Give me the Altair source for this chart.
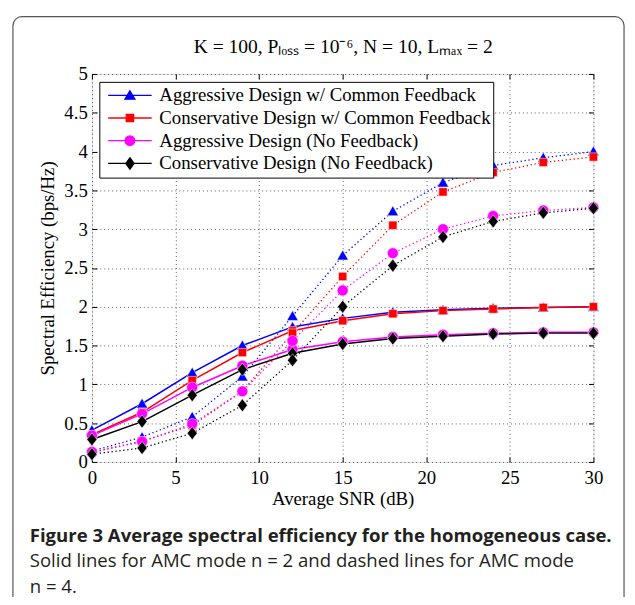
import altair as alt
import pandas as pd

snr = [0, 3, 6, 9, 12, 15, 18, 21, 24, 27, 30]

series_names = [
    "Aggressive Design w/ Common Feedback",
    "Conservative Design w/ Common Feedback",
    "Aggressive Design (No Feedback)",
    "Conservative Design (No Feedback)",
]
series_colors = ["#0000ff", "#ff0000", "#ff00ff", "#000000"]

# AMC mode n = 2 (solid lines)
agg_cf_n2 = [0.41, 0.75, 1.15, 1.50, 1.74, 1.85, 1.93, 1.96, 1.98, 1.99, 2.00]
con_cf_n2 = [0.35, 0.64, 1.05, 1.41, 1.69, 1.82, 1.91, 1.95, 1.97, 1.99, 2.00]
agg_nf_n2 = [0.34, 0.62, 0.96, 1.24, 1.45, 1.55, 1.61, 1.64, 1.66, 1.67, 1.67]
con_nf_n2 = [0.29, 0.52, 0.86, 1.19, 1.40, 1.52, 1.59, 1.62, 1.65, 1.66, 1.66]
# AMC mode n = 4 (dotted lines)
agg_cf_n4 = [0.14, 0.32, 0.58, 1.10, 1.88, 2.66, 3.23, 3.60, 3.82, 3.92, 4.00]
con_cf_n4 = [0.12, 0.27, 0.47, 0.91, 1.66, 2.39, 3.05, 3.48, 3.73, 3.86, 3.93]
agg_nf_n4 = [0.13, 0.26, 0.49, 0.91, 1.56, 2.21, 2.69, 3.00, 3.17, 3.24, 3.28]
con_nf_n4 = [0.10, 0.18, 0.37, 0.73, 1.31, 2.00, 2.53, 2.90, 3.10, 3.21, 3.27]

x_ticks = [0, 5, 10, 15, 20, 25, 30]
y_ticks = [0, 0.5, 1, 1.5, 2, 2.5, 3, 3.5, 4, 4.5, 5]

# marker glyphs (data) and line+marker glyphs (legend)
marker_paths = [
    "M 0 -0.92 L 0.95 0.74 L -0.95 0.74 Z",
    "M -0.7 -0.7 L 0.7 -0.7 L 0.7 0.7 L -0.7 0.7 Z",
    "M -0.92 0 A 0.92 0.92 0 1 1 0.92 0 A 0.92 0.92 0 1 1 -0.92 0 Z",
    "M 0 -1.1 L 0.85 0 L 0 1.1 L -0.85 0 Z",
]
legend_paths = [
    "M -1 0 L 1 0 M 0 -0.21 L 0.23 0.18 L -0.23 0.18 Z",
    "M -1 0 L 1 0 M -0.17 -0.17 L 0.17 -0.17 L 0.17 0.17 L -0.17 0.17 Z",
    "M -1 0 L 1 0 M -0.22 0 A 0.22 0.22 0 1 1 0.22 0 A 0.22 0.22 0 1 1 -0.22 0 Z",
    "M -1 0 L 1 0 M 0 -0.26 L 0.19 0 L 0 0.26 L -0.19 0 Z",
]

n2_sets = [agg_cf_n2, con_cf_n2, agg_nf_n2, con_nf_n2]
n4_sets = [agg_cf_n4, con_cf_n4, agg_nf_n4, con_nf_n4]

rows = []
for name, s2, s4 in zip(series_names, n2_sets, n4_sets):
    for xv, yv in zip(snr, s2):
        rows.append({"snr": xv, "se": yv, "series": name, "mode": "n=2"})
    for xv, yv in zip(snr, s4):
        rows.append({"snr": xv, "se": yv, "series": name, "mode": "n=4"})
df = pd.DataFrame(rows)

SERIF = "Liberation Serif"
FS = 19

x_scale = alt.Scale(domain=[0, 30], nice=False)
y_scale = alt.Scale(domain=[0, 5], nice=False)

tick_common = dict(domain=False, ticks=True, tickSize=5, offset=-5, tickColor="black",
                   tickWidth=1, labelFont=SERIF, labelFontSize=FS, labelColor="black",
                   labelFlush=False, labelOverlap=False,
                   titleFont=SERIF, titleFontWeight="normal", titleColor="black")

x_bottom = alt.X("snr:Q", scale=x_scale, axis=alt.Axis(
    values=x_ticks, format="d", grid=True, gridDash=[1, 3], gridColor="black",
    gridOpacity=0.8, gridWidth=0.8, labelPadding=7, title="Average SNR (dB)",
    titleFontSize=FS, titlePadding=2, **tick_common))
y_left = alt.Y("se:Q", scale=y_scale, axis=alt.Axis(
    values=y_ticks, format="~g", grid=True, gridDash=[1, 3], gridColor="black",
    gridOpacity=0.8, gridWidth=0.8, labelPadding=4.7, titleFontSize=FS,
    title="Spectral Efficiency (bps/Hz)", titlePadding=6.5, **tick_common))
x_top = alt.X("snr:Q", scale=x_scale, axis=alt.Axis(
    orient="top", values=x_ticks, labels=False, grid=False, titleFontSize=19.8,
    title="K = 100, Pₗₒₛₛ = 10⁻⁶, N = 10, Lₘₐₓ = 2", titlePadding=17, **tick_common))
y_right = alt.Y("se:Q", scale=y_scale, axis=alt.Axis(
    orient="right", values=y_ticks, labels=False, grid=False, title="", **tick_common))
x_plain = alt.X("snr:Q", scale=x_scale, axis=None)
y_plain = alt.Y("se:Q", scale=y_scale, axis=None)

frame = alt.Chart(pd.DataFrame({"f": [0]})).mark_rect(
    fill="transparent", stroke="#555555", strokeWidth=1.2, cornerRadius=9
).encode(x=alt.value(-80), x2=alt.value(539), y=alt.value(-58), y2=alt.value(560))

layers = [frame]
first = True
for i, name in enumerate(series_names):
    sel = (alt.datum.series == name) & (alt.datum.mode == "n=2")
    layers.append(
        alt.Chart(df).transform_filter(sel).mark_line(
            strokeWidth=1.5, color=series_colors[i]
        ).encode(x=x_bottom if first else x_plain, y=y_left if first else y_plain, order="snr:Q")
    )
    first = False
for i, name in enumerate(series_names):
    sel = (alt.datum.series == name) & (alt.datum.mode == "n=4")
    layers.append(
        alt.Chart(df).transform_filter(sel).mark_line(
            strokeWidth=1.3, strokeDash=[1.3, 2.7], color=series_colors[i]
        ).encode(x=x_plain, y=y_plain, order="snr:Q")
    )
for i, name in enumerate(series_names):
    layers.append(
        alt.Chart(df).transform_filter(alt.datum.series == name).mark_point(
            filled=True, shape=marker_paths[i], size=144, opacity=1,
            fill=series_colors[i], stroke="white", strokeWidth=0.5
        ).encode(x=x_top if i == 0 else x_plain, y=y_right if i == 0 else y_plain)
    )

leg = alt.Legend(
    title=None, labelExpr="datum.label + '\u00a0\u00a0\u00a0\u00a0'",
    orient="none", legendX=7.5, legendY=8, strokeColor="black",
    fillColor="white", padding=2.5, cornerRadius=0, labelFont=SERIF, labelFontSize=FS,
    labelColor="black", labelLimit=600, symbolSize=1936, symbolStrokeWidth=1.3,
    symbolOffset=5.5, labelOffset=6.8, clipHeight=22.2, rowPadding=0,
)
legend_layer = alt.Chart(df).transform_filter("false").mark_point(
    filled=True, opacity=1
).encode(
    color=alt.Color("series:N", scale=alt.Scale(domain=series_names, range=series_colors), legend=leg),
    stroke=alt.Stroke("series:N", scale=alt.Scale(domain=series_names, range=series_colors), legend=leg),
    shape=alt.Shape("series:N", scale=alt.Scale(domain=series_names, range=legend_paths), legend=leg),
)
layers.append(legend_layer)

chart = alt.layer(*layers).resolve_axis(
    x="independent", y="independent"
).properties(
    width=508, height=393,
    autosize=alt.AutoSizeParams(type="none"),
    padding={"left": 85, "top": 63, "right": 34, "bottom": 133},
    title=alt.TitleParams(
        text="Figure 3 Average spectral efficiency for the homogeneous case.",
        subtitle=["Solid lines for AMC mode n = 2 and dashed lines for AMC mode", "n = 4."],
        orient="bottom", anchor="start", frame="group", dx=-63, offset=-101.5,
        font="Open Sans", fontSize=18.8, fontWeight="bold", color="#231f20",
        subtitleFont="Open Sans", subtitleFontSize=18.8, subtitleFontWeight="normal",
        subtitleColor="#231f20", subtitleLineHeight=25.5, subtitlePadding=7,
    ),
).configure_view(
    stroke="black", strokeWidth=1.3
).configure_legend(
    strokeColor="black", strokeWidth=1.2, fillColor="white",
).configure(background="white")

chart.save("out.html", embed_options={"renderer": "svg", "actions": False})
